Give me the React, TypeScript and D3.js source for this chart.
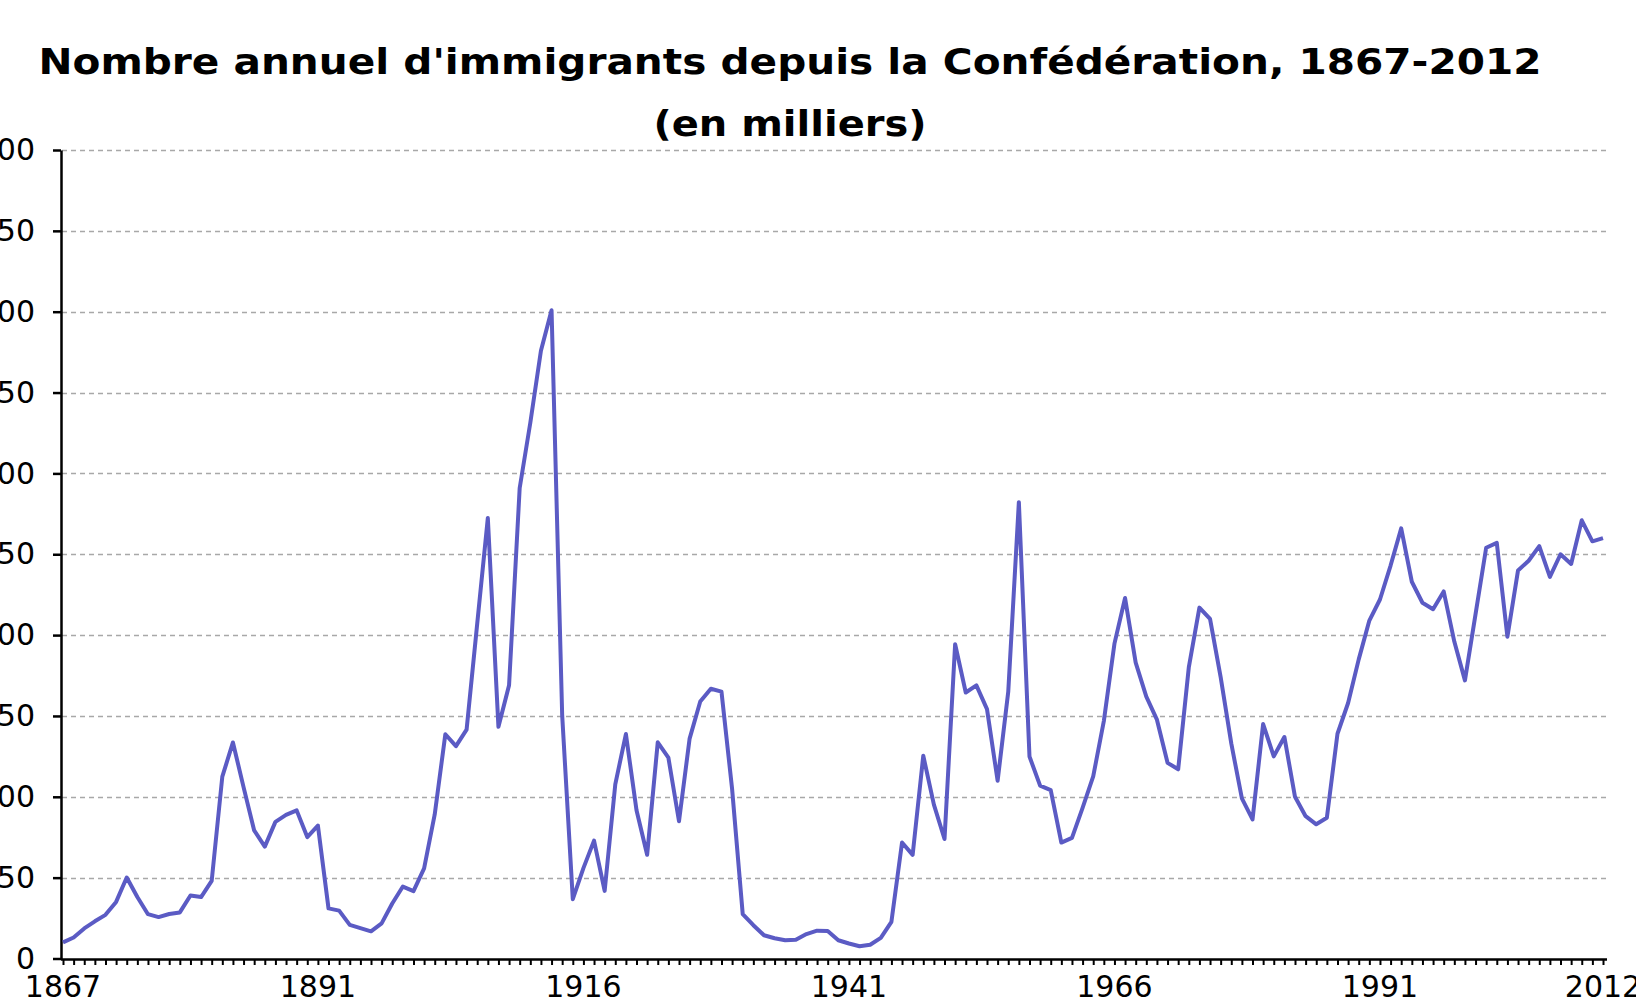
import { useRef, useEffect } from "react";
import * as d3 from "d3";

// Immigrants per year, thousands (1867 -> 2012)
const immigrants1867_1899 = [
  10, 13, 18.6, 23, 27, 35, 50.1, 38, 27.4, 25.6,
  27.5, 28.5, 39, 38, 48, 112.5, 133.6, 106, 79.2, 69.2,
  84.5, 88.8, 91.6, 75.1, 82.2, 31, 29.6, 20.8, 18.8, 16.8,
  21.7, 34, 44.5,
];
const immigrants1900_1939 = [
  41.7, 55.7, 89.1, 138.7, 131.3, 141.5, 207, 272.4, 143.3, 169,
  291, 331.3, 375.8, 400.9, 150.5, 36.7, 55.9, 72.9, 41.8, 107.7,
  138.8, 91.7, 64.2, 133.7, 124.2, 84.9, 136, 158.9, 166.8, 165,
  104.8, 27.5, 20.6, 14.4, 12.5, 11.3, 11.6, 15.1, 17.2, 17,
];
const immigrants1940_1979 = [
  11.3, 9.3, 7.6, 8.5, 12.8, 22.7, 71.7, 64.1, 125.4, 95.2,
  73.9, 194.4, 164.5, 168.9, 154.2, 109.9, 164.9, 282.2, 124.9, 106.9,
  104.1, 71.7, 74.6, 93.2, 112.6, 146.8, 194.7, 222.9, 183, 162,
  147.7, 121, 117, 180, 217, 210, 174, 133, 99, 86,
];
const immigrants1980_2012 = [
  145, 125, 137, 100, 88, 83, 87, 139, 158, 185,
  209, 222, 243, 266, 233, 220, 216, 227, 196, 172,
  213, 254, 257, 199, 240, 246, 255, 236, 250, 244,
  271, 258, 260,
];

const values = [
  ...immigrants1867_1899,
  ...immigrants1900_1939,
  ...immigrants1940_1979,
  ...immigrants1980_2012,
];
const years = d3.range(1867, 1867 + values.length);
const yTicks = [0, 50, 100, 150, 200, 250, 300, 350, 400, 450, 500];
const xLabels = [1867, 1891, 1916, 1941, 1966, 1991, 2012];

const titleLine1 = "Nombre annuel d'immigrants depuis la Confédération, 1867-2012";
const titleLine2 = "(en milliers)";

export default function App() {
  const svgRef = useRef<SVGSVGElement | null>(null);
  const width = 1636;
  const height = 1002;

  useEffect(() => {
    if (!svgRef.current) return;
    const svg = d3.select(svgRef.current);
    svg.selectAll("*").remove();

    const axisX = 61;
    const axisY = 959;
    const plotRight = 1607;

    const x = d3.scaleLinear().domain([1867, 2012]).range([63, 1603]);
    const y = d3.scaleLinear().domain([0, 500]).range([axisY - 0.5, 150]);

    // title, two lines
    const titleFont = "'DejaVu Sans', Arial, sans-serif";
    svg
      .append("text")
      .attr("x", 790)
      .attr("y", 74)
      .attr("text-anchor", "middle")
      .attr("font-family", titleFont)
      .attr("font-weight", "bold")
      .attr("font-size", 36)
      .attr("textLength", 1503)
      .attr("lengthAdjust", "spacingAndGlyphs")
      .text(titleLine1);
    svg
      .append("text")
      .attr("x", 790)
      .attr("y", 136)
      .attr("text-anchor", "middle")
      .attr("font-family", titleFont)
      .attr("font-weight", "bold")
      .attr("font-size", 36)
      .attr("textLength", 273)
      .attr("lengthAdjust", "spacingAndGlyphs")
      .text(titleLine2);

    // dashed horizontal gridlines
    svg
      .append("g")
      .selectAll("line")
      .data(yTicks.filter(d => d > 0))
      .enter()
      .append("line")
      .attr("x1", axisX + 1)
      .attr("x2", plotRight)
      .attr("y1", d => Math.round(y(d)) + 0.5)
      .attr("y2", d => Math.round(y(d)) + 0.5)
      .attr("stroke", "#a8a8a8")
      .attr("stroke-width", 1.5)
      .attr("stroke-dasharray", "5 4");

    // y axis
    const yAxis = svg
      .append("g")
      .attr("transform", `translate(${axisX},0)`)
      .call(
        d3
          .axisLeft(y)
          .tickValues(yTicks)
          .tickSize(8)
          .tickSizeOuter(0)
          .tickPadding(18)
      );
    yAxis.select(".domain").attr("stroke", "#000").attr("stroke-width", 2.5);
    yAxis.selectAll(".tick line").attr("stroke", "#000").attr("stroke-width", 2.5);
    yAxis
      .selectAll(".tick text")
      .attr("font-family", "'DejaVu Sans', sans-serif")
      .attr("font-size", 30)
      .attr("fill", "#000");

    // x axis: one small tick per year
    const xAxis = svg
      .append("g")
      .attr("transform", `translate(0,${axisY})`)
      .call(
        d3
          .axisBottom(x)
          .tickValues(years)
          .tickSize(6)
          .tickSizeOuter(0)
          .tickFormat(() => "")
      );
    xAxis
      .select(".domain")
      .attr("d", `M${axisX},0.5H${plotRight}`)
      .attr("stroke", "#000")
      .attr("stroke-width", 2.5);
    xAxis.selectAll(".tick line").attr("stroke", "#000").attr("stroke-width", 2);

    svg
      .append("g")
      .selectAll("text")
      .data(xLabels)
      .enter()
      .append("text")
      .attr("x", d => x(d))
      .attr("y", 997)
      .attr("text-anchor", "middle")
      .attr("font-family", "'DejaVu Sans', sans-serif")
      .attr("font-size", 30)
      .attr("fill", "#000")
      .text(d => String(d));

    // the series line
    const line = d3
      .line<number>()
      .x((_, i) => x(years[i]))
      .y(d => y(d));

    svg
      .append("path")
      .datum(values)
      .attr("d", line)
      .attr("fill", "none")
      .attr("stroke", "#5b5bc4")
      .attr("stroke-width", 4)
      .attr("stroke-linejoin", "round");
  }, []);

  return (
    <svg
      ref={svgRef}
      width={width}
      height={height}
      style={{ position: "absolute", left: 0, top: 0, background: "#fff" }}
    />
  );
}
